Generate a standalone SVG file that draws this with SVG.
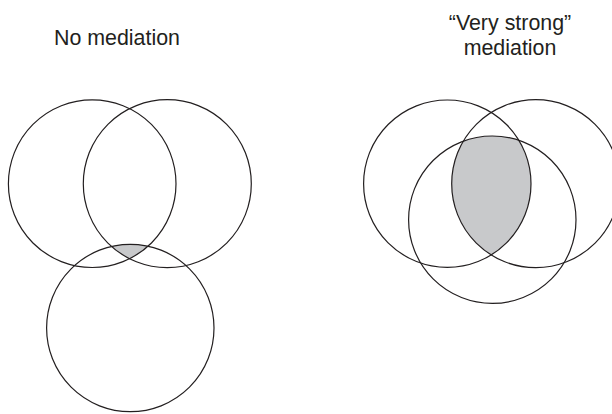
<svg xmlns="http://www.w3.org/2000/svg" width="612" height="414" viewBox="0 0 612 414">
<style>
.c{fill:none;stroke:#231f20;stroke-width:1.2}
.s{fill:#c8c9cb;stroke:none}
.t{font-family:"Liberation Sans",Arial,sans-serif;font-size:21.4px;fill:#231f20;text-anchor:middle}
</style>
<defs>
<clipPath id="l1"><circle cx="92.2" cy="183.7" r="83.8"/></clipPath>
<clipPath id="l2"><circle cx="167.3" cy="183.7" r="84"/></clipPath>
<clipPath id="rA"><circle cx="447.3" cy="183.7" r="83.7"/></clipPath>
<clipPath id="rB"><circle cx="535.7" cy="183.7" r="84"/></clipPath>
</defs>
<rect width="612" height="414" fill="#fff"/>
<g id="left">
<text class="t" x="117" y="45">No mediation</text>
<g clip-path="url(#l1)"><circle class="s" cx="130.3" cy="328" r="83.7" clip-path="url(#l2)"/></g>
<g id="l-c1"><circle class="c" cx="92.2" cy="183.7" r="83.8"/></g>
<g id="l-c2"><circle class="c" cx="167.3" cy="183.7" r="84"/></g>
<g id="l-c3"><circle class="c" cx="130.3" cy="328" r="83.7"/></g>
</g>
<g id="right">
<text class="t" x="510" y="29.5">“Very strong”</text>
<text class="t" x="510" y="55">mediation</text>
<g clip-path="url(#rA)"><circle class="s" cx="492.3" cy="219.7" r="83.7" clip-path="url(#rB)"/></g>
<g id="r-cA"><circle class="c" cx="447.3" cy="183.7" r="83.7"/></g>
<g id="r-cB"><circle class="c" cx="535.7" cy="183.7" r="84"/></g>
<g id="r-cC"><circle class="c" cx="492.3" cy="219.7" r="83.7"/></g>
</g>
</svg>
